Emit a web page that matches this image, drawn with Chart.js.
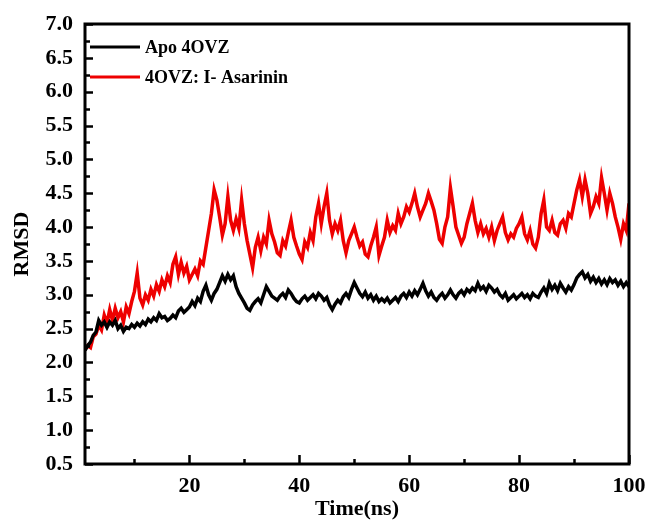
<!DOCTYPE html>
<html>
<head>
<meta charset="utf-8">
<script src="https://cdn.jsdelivr.net/npm/chart.js@4.4.1/dist/chart.umd.min.js"></script>
<style>
  html, body { margin: 0; padding: 0; background: #fff; }
  #wrap { width: 651px; height: 523px; }
</style>
</head>
<body>
<div id="wrap"><canvas id="rmsd"></canvas></div>
<script>
// time grid: 1 ns to 100 ns, one sample every 0.5 ns
const timeStart = 1
const timeStep = 0.5

// RMSD (nm), every 0.5 ns
const apoRmsd = [
  2.18, 2.25, 2.3, 2.4, 2.45, 2.62, 2.55, 2.6, 2.52, 2.6,
  2.55, 2.62, 2.5, 2.55, 2.46, 2.52, 2.5, 2.56, 2.52, 2.58,
  2.54, 2.6, 2.56, 2.64, 2.6, 2.66, 2.62, 2.72, 2.66, 2.68,
  2.62, 2.65, 2.7, 2.66, 2.76, 2.8, 2.74, 2.78, 2.82, 2.9,
  2.84, 2.95, 2.9, 3.05, 3.14, 3.0, 2.92, 3.02, 3.08, 3.18,
  3.28, 3.2, 3.3, 3.22, 3.28, 3.12, 3.02, 2.95, 2.88, 2.8,
  2.77, 2.85, 2.9, 2.94, 2.88, 3.0, 3.12, 3.05, 2.98, 2.95,
  2.92, 2.98, 3.02, 2.96, 3.07, 3.02, 2.95, 2.9, 2.88, 2.94,
  2.98, 2.92, 2.96, 3.0, 2.94, 3.02, 2.98, 2.92, 2.96, 2.85,
  2.78, 2.86, 2.92, 2.88, 2.97, 3.02, 2.96, 3.08, 3.18, 3.1,
  3.02, 2.97, 3.04, 2.95, 3.0, 2.92, 2.98, 2.9, 2.94, 2.9,
  2.95, 2.88, 2.92, 2.96, 2.9, 2.98, 3.02, 2.96, 3.04, 2.98,
  3.06, 3.0, 3.08, 3.17, 3.06, 2.98, 3.04, 2.96, 2.92, 2.98,
  3.02, 2.95, 3.0, 3.07, 3.0, 2.95, 3.02, 3.06, 3.0, 3.08,
  3.04, 3.1, 3.06, 3.17, 3.08, 3.12, 3.05, 3.14, 3.1, 3.04,
  3.08, 3.0, 2.96, 3.02, 2.92, 2.96, 3.0, 2.94, 2.98, 3.02,
  2.96, 3.0, 2.94, 3.02, 2.98, 2.96, 3.04, 3.1, 3.02, 3.17,
  3.08, 3.14, 3.06, 3.17, 3.1, 3.04, 3.12, 3.07, 3.15, 3.25,
  3.3, 3.34, 3.25, 3.3, 3.2, 3.26, 3.18, 3.24, 3.16, 3.22,
  3.15, 3.24, 3.18, 3.22, 3.14, 3.2, 3.12, 3.18, 3.12
]
const asarininRmsd = [
  2.19, 2.25, 2.22, 2.38, 2.42, 2.55, 2.48, 2.7, 2.58, 2.78,
  2.62, 2.8, 2.66, 2.75, 2.6, 2.82, 2.72, 2.9, 3.05, 3.32,
  2.95, 2.85, 3.0, 2.92, 3.08, 2.98, 3.15, 3.05, 3.22, 3.12,
  3.28, 3.18, 3.45, 3.56, 3.3, 3.48, 3.32, 3.42, 3.22, 3.3,
  3.38, 3.28, 3.5, 3.45, 3.7, 3.95, 4.2, 4.55, 4.4, 4.15,
  3.88, 4.05, 4.45, 4.1, 3.95, 4.12, 3.98, 4.4, 4.05, 3.8,
  3.6, 3.4, 3.7, 3.85, 3.65, 3.85, 3.75, 4.1, 3.9, 3.78,
  3.62, 3.58, 3.8, 3.72, 3.92, 4.1, 3.85, 3.72, 3.6, 3.52,
  3.78, 3.7, 3.92, 3.8, 4.15, 4.35, 4.05, 4.3, 4.5, 4.1,
  3.9, 4.05, 3.95, 4.1, 3.8, 3.62, 3.8, 3.9, 4.0, 3.85,
  3.72, 3.78, 3.6, 3.56, 3.72, 3.85, 4.0, 3.58, 3.72, 3.85,
  4.1, 3.92, 4.02, 3.95, 4.2, 4.05, 4.15, 4.3, 4.22, 4.35,
  4.5, 4.3, 4.15, 4.25, 4.35, 4.5, 4.38, 4.25, 4.05, 3.82,
  3.76, 4.0, 4.15, 4.58, 4.3, 4.0, 3.88, 3.76, 3.85, 4.05,
  4.2, 4.35, 4.1, 3.92, 4.05, 3.9, 3.98, 3.85, 4.0, 3.8,
  3.95, 4.05, 4.15, 3.92, 3.81, 3.9, 3.85, 3.98, 4.05, 4.15,
  3.9, 3.81, 3.95, 3.75, 3.69, 3.85, 4.2, 4.4, 4.0, 3.95,
  4.1, 3.92, 3.88, 4.05, 4.1, 3.98, 4.2, 4.15, 4.35, 4.55,
  4.7, 4.45, 4.7, 4.5, 4.2, 4.3, 4.45, 4.35, 4.73, 4.5,
  4.25, 4.5, 4.35, 4.15, 4.0, 3.82, 4.05, 3.95, 4.35
]

const seriesNames = ['Apo 4OVZ', '4OVZ: I- Asarinin']
const seriesColors = ['#000000', '#ee0000']
const xTickValues = [20, 40, 60, 80, 100]
const xMinorTicks = [10, 30, 50, 70, 90]
const yMin = 0.5
const yMax = 7.0
const xMin = 1
const xMax = 100

const fontFamily = '"Liberation Serif", "Times New Roman", serif'

function toPoints(values) {
    return values.map((v, i) => ({ x: timeStart + i * timeStep, y: v }))
}

// frame, inward ticks and the legend box inside the plot
const framePlugin = {
    id: 'frame',
    afterDraw(chart) {
        const ctx = chart.ctx
        const area = chart.chartArea
        const xs = chart.scales.x
        const ys = chart.scales.y
        ctx.save()
        ctx.strokeStyle = '#000'
        ctx.lineWidth = 2.5
        ctx.beginPath()
        // y ticks every 0.25, labelled every 0.5
        for (let k = 0; k <= (yMax - yMin) / 0.25; k++) {
            const v = yMin + k * 0.25
            const py = Math.round(ys.getPixelForValue(v)) + 0.5
            const len = k % 2 === 0 ? 8 : 5
            ctx.moveTo(area.left, py)
            ctx.lineTo(area.left + len, py)
        }
        xTickValues.forEach(v => {
            const px = Math.round(xs.getPixelForValue(v)) + 0.5
            ctx.moveTo(px, area.bottom)
            ctx.lineTo(px, area.bottom - 9)
        })
        xMinorTicks.forEach(v => {
            const px = Math.round(xs.getPixelForValue(v)) + 0.5
            ctx.moveTo(px, area.bottom)
            ctx.lineTo(px, area.bottom - 5)
        })
        ctx.stroke()
        ctx.lineWidth = 3
        ctx.strokeRect(area.left, area.top, area.right - area.left, area.bottom - area.top)

        // legend
        ctx.font = 'bold 18px ' + fontFamily
        ctx.textBaseline = 'middle'
        ctx.textAlign = 'left'
        chart.data.datasets.forEach((ds, i) => {
            const y = area.top + 23 + i * 30
            ctx.strokeStyle = ds.borderColor
            ctx.lineWidth = 3
            ctx.beginPath()
            ctx.moveTo(area.left + 5, y)
            ctx.lineTo(area.left + 55, y)
            ctx.stroke()
            ctx.fillStyle = '#000'
            ctx.fillText(ds.label, area.left + 60, y + 1)
        })
        ctx.restore()
    }
}

const chart = new Chart(document.getElementById('rmsd').getContext('2d'), {
    type: 'line',
    data: {
        datasets: [
            {
                label: seriesNames[0],
                data: toPoints(apoRmsd),
                borderColor: seriesColors[0],
                borderWidth: 3.5,
                pointRadius: 0,
                tension: 0,
            },
            {
                label: seriesNames[1],
                data: toPoints(asarininRmsd),
                borderColor: seriesColors[1],
                borderWidth: 3.5,
                pointRadius: 0,
                tension: 0,
            }
        ]
    },
    options: {
        responsive: true,
        maintainAspectRatio: false,
        animation: false,
        layout: { padding: { top: 24, right: 22, left: 9, bottom: 0 } },
        plugins: {
            legend: { display: false },
            tooltip: { enabled: false },
        },
        scales: {
            x: {
                type: 'linear',
                min: xMin,
                max: xMax,
                afterBuildTicks: scale => {
                    scale.ticks = xTickValues.map(v => ({ value: v }))
                },
                afterFit: scale => { scale.height = 59 },
                grid: { display: false },
                border: { display: false },
                ticks: {
                    color: '#000',
                    padding: 1,
                    font: { family: fontFamily, size: 22, weight: 'bold' },
                    maxRotation: 0,
                },
                title: {
                    display: true,
                    text: 'Time(ns)',
                    color: '#000',
                    padding: { top: 0, bottom: 0 },
                    font: { family: fontFamily, size: 22, weight: 'bold' },
                },
            },
            y: {
                min: yMin,
                max: yMax,
                afterFit: scale => { scale.width = 76 },
                grid: { display: false },
                border: { display: false },
                ticks: {
                    stepSize: 0.5,
                    color: '#000',
                    padding: 4,
                    callback: v => v.toFixed(1),
                    font: { family: fontFamily, size: 22, weight: 'bold' },
                },
                title: {
                    display: true,
                    text: 'RMSD',
                    color: '#000',
                    padding: { top: 0, bottom: 4 },
                    font: { family: fontFamily, size: 22, weight: 'bold' },
                },
            },
        },
    },
    plugins: [framePlugin],
})
</script>
</body>
</html>
